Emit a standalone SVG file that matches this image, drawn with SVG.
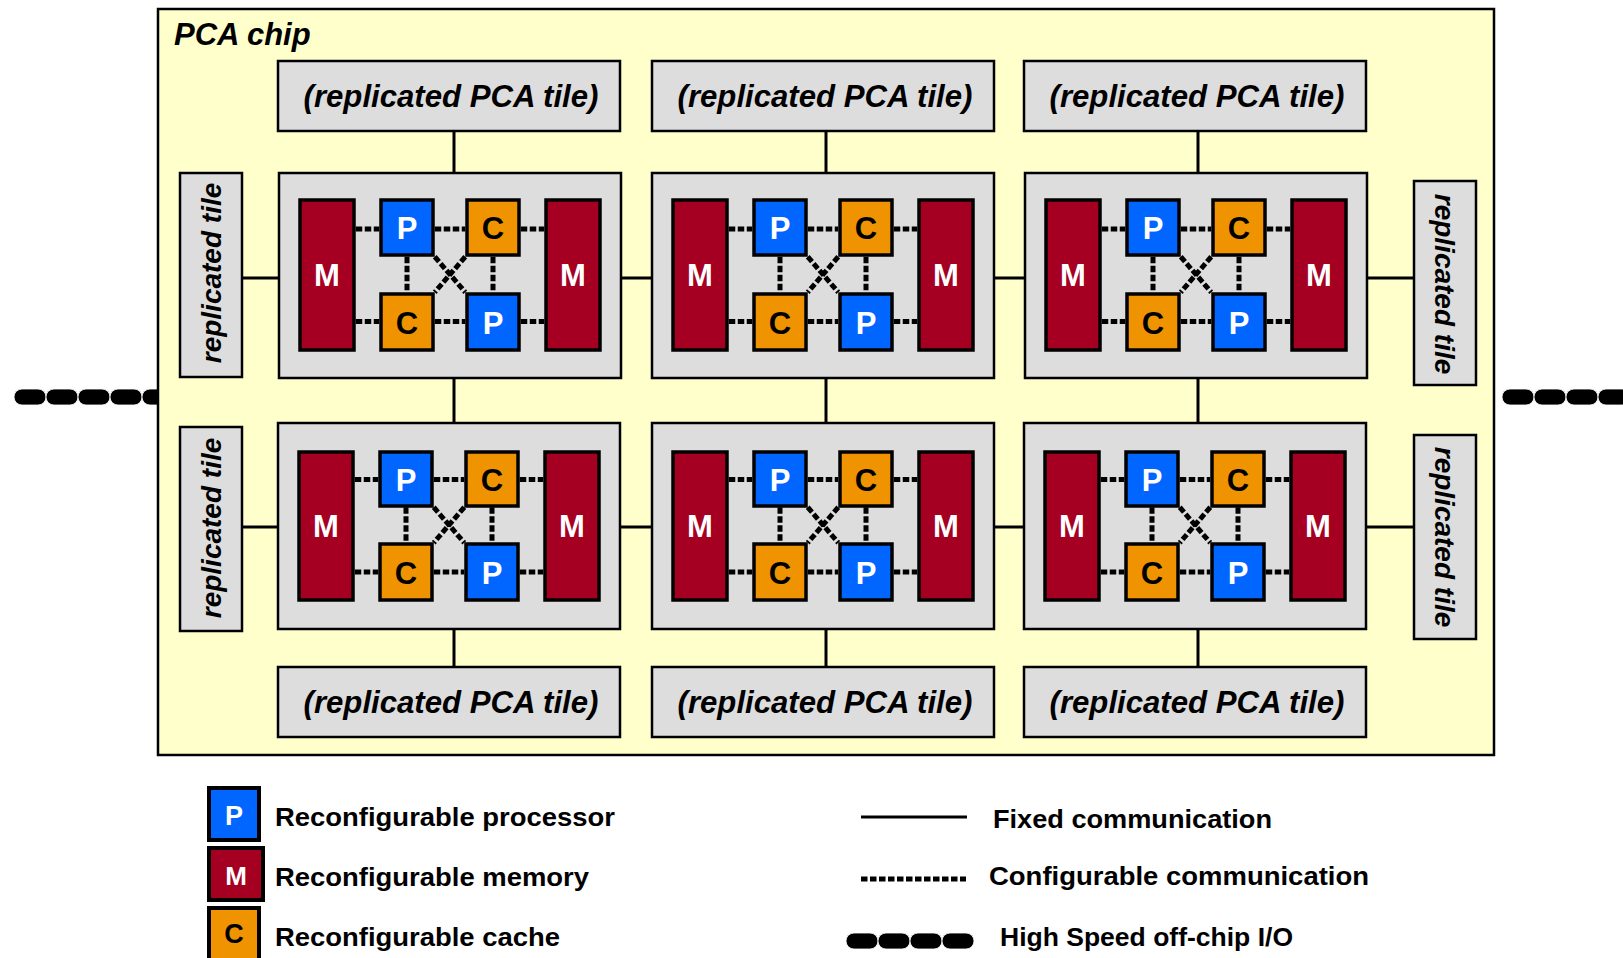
<svg xmlns="http://www.w3.org/2000/svg" width="1623" height="958" viewBox="0 0 1623 958">
<style>
text{font-family:"Liberation Sans",Arial,Helvetica,sans-serif;font-weight:bold}
.chip{fill:#FFFFCC;stroke:#000;stroke-width:2.5}
.box{fill:#DDDDDD;stroke:#000;stroke-width:2.5}
.m{fill:#A50021;stroke:#000;stroke-width:3.5}
.p{fill:#0066FF;stroke:#000;stroke-width:3.5}
.c{fill:#F09300;stroke:#000;stroke-width:3.5}
.fixed{stroke:#000;stroke-width:3;fill:none}
.conf{stroke:#000;stroke-width:5;fill:none;stroke-dasharray:6.5 2.5}
.io{fill:#000;stroke:#fff;stroke-width:0.8}
.lbl{font-size:30.5px;font-style:italic;fill:#000;text-anchor:middle}
.vlbl{font-size:28px;font-style:italic;fill:#000;text-anchor:middle}
.wl{font-size:31px;fill:#fff;text-anchor:middle}
.bl{font-size:31px;fill:#000;text-anchor:middle}
.leg{font-size:26.5px;fill:#000}
</style>
<defs>
<g id="inner-links">
<path class="conf" stroke="#000" stroke-width="5" stroke-dasharray="6.5 2.5" fill="none" d="M76.75,56H100.25M155.75,56H186.25M241.75,56H265.25M76.75,148.5H100.25M155.75,148.5H186.25M241.75,148.5H265.25M128,83.75V119.25M214,83.75V119.25M155.75,83.75L186.25,119.25M186.25,83.75L155.75,119.25"/>
</g>
</defs>

<g id="io-left">
<rect class="io" x="14" y="389" width="32" height="16" rx="8"/>
<rect class="io" x="46" y="389" width="32" height="16" rx="8"/>
<rect class="io" x="78" y="389" width="32" height="16" rx="8"/>
<rect class="io" x="110" y="389" width="32" height="16" rx="8"/>
<rect class="io" x="142" y="389" width="32" height="16" rx="8"/>
</g>
<g id="io-right">
<rect class="io" x="1502" y="389" width="32" height="16" rx="8"/>
<rect class="io" x="1534" y="389" width="32" height="16" rx="8"/>
<rect class="io" x="1566" y="389" width="32" height="16" rx="8"/>
<rect class="io" x="1598" y="389" width="32" height="16" rx="8"/>
</g>

<g id="pca-chip">
<rect class="chip" x="158" y="9" width="1336" height="746"/>
<text x="174" y="45" style="font-size:31px;font-style:italic">PCA chip</text>
</g>

<g id="rep-top-1"><rect class="box" x="278" y="61" width="342" height="70"/><text class="lbl" x="451" y="107" textLength="295" lengthAdjust="spacingAndGlyphs">(replicated PCA tile)</text></g>
<g id="rep-top-2"><rect class="box" x="652" y="61" width="342" height="70"/><text class="lbl" x="825" y="107" textLength="295" lengthAdjust="spacingAndGlyphs">(replicated PCA tile)</text></g>
<g id="rep-top-3"><rect class="box" x="1024" y="61" width="342" height="70"/><text class="lbl" x="1197" y="107" textLength="295" lengthAdjust="spacingAndGlyphs">(replicated PCA tile)</text></g>
<g id="rep-bot-1"><rect class="box" x="278" y="667" width="342" height="70"/><text class="lbl" x="451" y="713" textLength="295" lengthAdjust="spacingAndGlyphs">(replicated PCA tile)</text></g>
<g id="rep-bot-2"><rect class="box" x="652" y="667" width="342" height="70"/><text class="lbl" x="825" y="713" textLength="295" lengthAdjust="spacingAndGlyphs">(replicated PCA tile)</text></g>
<g id="rep-bot-3"><rect class="box" x="1024" y="667" width="342" height="70"/><text class="lbl" x="1197" y="713" textLength="295" lengthAdjust="spacingAndGlyphs">(replicated PCA tile)</text></g>

<g id="rep-left-1"><rect class="box" x="180" y="173" width="62" height="204"/><text class="vlbl" transform="translate(221,273) rotate(-90)">replicated tile</text></g>
<g id="rep-left-2"><rect class="box" x="180" y="427" width="62" height="204"/><text class="vlbl" transform="translate(221,528) rotate(-90)">replicated tile</text></g>
<g id="rep-right-1"><rect class="box" x="1414" y="181" width="62" height="204"/><text class="vlbl" transform="translate(1435,284) rotate(90)">replicated tile</text></g>
<g id="rep-right-2"><rect class="box" x="1414" y="435" width="62" height="204"/><text class="vlbl" transform="translate(1435,537) rotate(90)">replicated tile</text></g>

<g id="tile-r1c1" transform="translate(279,173)">
<rect class="box" x="0" y="0" width="342" height="205"/>
<g id="t11-m1"><rect class="m" x="21" y="27" width="54" height="150"/><text class="wl" x="48" y="113">M</text></g>
<g id="t11-p1"><rect class="p" x="102" y="27" width="52" height="55"/><text class="wl" x="128" y="66">P</text></g>
<g id="t11-c1"><rect class="c" x="188" y="27" width="52" height="55"/><text class="bl" x="214" y="66">C</text></g>
<g id="t11-c2"><rect class="c" x="102" y="121" width="52" height="56"/><text class="bl" x="128" y="160.5">C</text></g>
<g id="t11-p2"><rect class="p" x="188" y="121" width="52" height="56"/><text class="wl" x="214" y="160.5">P</text></g>
<g id="t11-m2"><rect class="m" x="267" y="27" width="54" height="150"/><text class="wl" x="294" y="113">M</text></g>
</g>
<g id="tile-r1c2" transform="translate(652,173)">
<rect class="box" x="0" y="0" width="342" height="205"/>
<g id="t12-m1"><rect class="m" x="21" y="27" width="54" height="150"/><text class="wl" x="48" y="113">M</text></g>
<g id="t12-p1"><rect class="p" x="102" y="27" width="52" height="55"/><text class="wl" x="128" y="66">P</text></g>
<g id="t12-c1"><rect class="c" x="188" y="27" width="52" height="55"/><text class="bl" x="214" y="66">C</text></g>
<g id="t12-c2"><rect class="c" x="102" y="121" width="52" height="56"/><text class="bl" x="128" y="160.5">C</text></g>
<g id="t12-p2"><rect class="p" x="188" y="121" width="52" height="56"/><text class="wl" x="214" y="160.5">P</text></g>
<g id="t12-m2"><rect class="m" x="267" y="27" width="54" height="150"/><text class="wl" x="294" y="113">M</text></g>
</g>
<g id="tile-r1c3" transform="translate(1025,173)">
<rect class="box" x="0" y="0" width="342" height="205"/>
<g id="t13-m1"><rect class="m" x="21" y="27" width="54" height="150"/><text class="wl" x="48" y="113">M</text></g>
<g id="t13-p1"><rect class="p" x="102" y="27" width="52" height="55"/><text class="wl" x="128" y="66">P</text></g>
<g id="t13-c1"><rect class="c" x="188" y="27" width="52" height="55"/><text class="bl" x="214" y="66">C</text></g>
<g id="t13-c2"><rect class="c" x="102" y="121" width="52" height="56"/><text class="bl" x="128" y="160.5">C</text></g>
<g id="t13-p2"><rect class="p" x="188" y="121" width="52" height="56"/><text class="wl" x="214" y="160.5">P</text></g>
<g id="t13-m2"><rect class="m" x="267" y="27" width="54" height="150"/><text class="wl" x="294" y="113">M</text></g>
</g>
<g id="tile-r2c1" transform="translate(278,423)">
<rect class="box" x="0" y="0" width="342" height="206"/>
<g id="t21-m1"><rect class="m" x="21" y="29" width="54" height="148"/><text class="wl" x="48" y="114">M</text></g>
<g id="t21-p1"><rect class="p" x="102" y="29" width="52" height="54"/><text class="wl" x="128" y="67.5">P</text></g>
<g id="t21-c1"><rect class="c" x="188" y="29" width="52" height="54"/><text class="bl" x="214" y="67.5">C</text></g>
<g id="t21-c2"><rect class="c" x="102" y="121" width="52" height="56"/><text class="bl" x="128" y="160.5">C</text></g>
<g id="t21-p2"><rect class="p" x="188" y="121" width="52" height="56"/><text class="wl" x="214" y="160.5">P</text></g>
<g id="t21-m2"><rect class="m" x="267" y="29" width="54" height="148"/><text class="wl" x="294" y="114">M</text></g>
</g>
<g id="tile-r2c2" transform="translate(652,423)">
<rect class="box" x="0" y="0" width="342" height="206"/>
<g id="t22-m1"><rect class="m" x="21" y="29" width="54" height="148"/><text class="wl" x="48" y="114">M</text></g>
<g id="t22-p1"><rect class="p" x="102" y="29" width="52" height="54"/><text class="wl" x="128" y="67.5">P</text></g>
<g id="t22-c1"><rect class="c" x="188" y="29" width="52" height="54"/><text class="bl" x="214" y="67.5">C</text></g>
<g id="t22-c2"><rect class="c" x="102" y="121" width="52" height="56"/><text class="bl" x="128" y="160.5">C</text></g>
<g id="t22-p2"><rect class="p" x="188" y="121" width="52" height="56"/><text class="wl" x="214" y="160.5">P</text></g>
<g id="t22-m2"><rect class="m" x="267" y="29" width="54" height="148"/><text class="wl" x="294" y="114">M</text></g>
</g>
<g id="tile-r2c3" transform="translate(1024,423)">
<rect class="box" x="0" y="0" width="342" height="206"/>
<g id="t23-m1"><rect class="m" x="21" y="29" width="54" height="148"/><text class="wl" x="48" y="114">M</text></g>
<g id="t23-p1"><rect class="p" x="102" y="29" width="52" height="54"/><text class="wl" x="128" y="67.5">P</text></g>
<g id="t23-c1"><rect class="c" x="188" y="29" width="52" height="54"/><text class="bl" x="214" y="67.5">C</text></g>
<g id="t23-c2"><rect class="c" x="102" y="121" width="52" height="56"/><text class="bl" x="128" y="160.5">C</text></g>
<g id="t23-p2"><rect class="p" x="188" y="121" width="52" height="56"/><text class="wl" x="214" y="160.5">P</text></g>
<g id="t23-m2"><rect class="m" x="267" y="29" width="54" height="148"/><text class="wl" x="294" y="114">M</text></g>
</g>

<g id="connectors">
<path class="fixed" d="M454,132V172M454,378V422M454,630V666M826,132V172M826,378V422M826,630V666M1198,132V172M1198,378V422M1198,630V666"/>
<path class="fixed" d="M243,278H278M622,278H651M995,278H1024M1368,278H1413M243,527H277M621,527H651M995,527H1023M1367,527H1413"/>
<use href="#inner-links" transform="translate(279,173)"/>
<use href="#inner-links" transform="translate(652,173)"/>
<use href="#inner-links" transform="translate(1025,173)"/>
<use href="#inner-links" transform="translate(278,423.5)"/>
<use href="#inner-links" transform="translate(652,423.5)"/>
<use href="#inner-links" transform="translate(1024,423.5)"/>
</g>

<g id="legend">
<g id="leg-p"><rect class="p" x="209" y="788" width="50" height="52" style="stroke-width:4"/><text class="wl" x="234" y="825" style="font-size:27px">P</text><text class="leg" x="275" y="826" textLength="340" lengthAdjust="spacingAndGlyphs">Reconfigurable processor</text></g>
<g id="leg-m"><rect class="m" x="209" y="848" width="54" height="52" style="stroke-width:4"/><text class="wl" x="236" y="885" style="font-size:26px">M</text><text class="leg" x="275" y="886" textLength="314" lengthAdjust="spacingAndGlyphs">Reconfigurable memory</text></g>
<g id="leg-c"><rect class="c" x="209" y="908" width="50" height="53" style="stroke-width:4"/><text class="bl" x="234" y="943" style="font-size:27px">C</text><text class="leg" x="275" y="946" textLength="285" lengthAdjust="spacingAndGlyphs">Reconfigurable cache</text></g>
<g id="leg-fixed"><path class="fixed" d="M861,817H967"/><text class="leg" x="993" y="828" textLength="279" lengthAdjust="spacingAndGlyphs">Fixed communication</text></g>
<g id="leg-conf"><path class="conf" d="M861,879H966"/><text class="leg" x="989" y="885" textLength="380" lengthAdjust="spacingAndGlyphs">Configurable communication</text></g>
<g id="leg-io">
<rect class="io" x="846" y="933" width="32" height="16" rx="8"/>
<rect class="io" x="878" y="933" width="32" height="16" rx="8"/>
<rect class="io" x="910" y="933" width="32" height="16" rx="8"/>
<rect class="io" x="942" y="933" width="32" height="16" rx="8"/>
<text class="leg" x="1000" y="946" textLength="293" lengthAdjust="spacingAndGlyphs">High Speed off-chip I/O</text>
</g>
</g>
</svg>
